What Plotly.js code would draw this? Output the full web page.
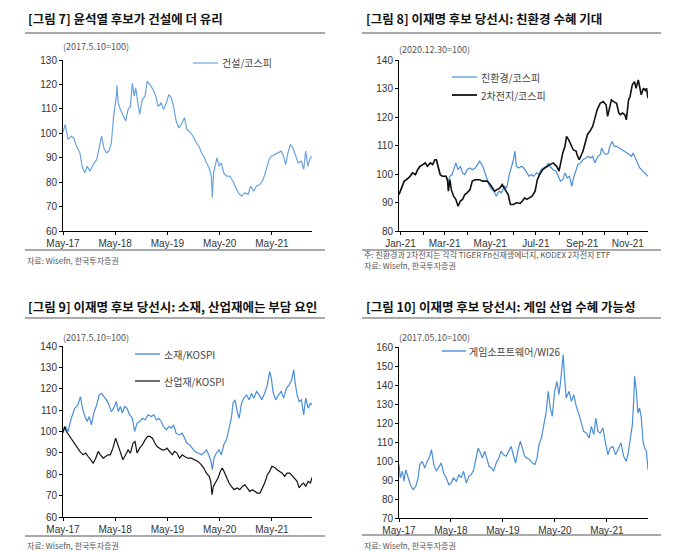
<!DOCTYPE html>
<html>
<head>
<meta charset="utf-8">
<script src="https://cdn.plot.ly/plotly-3.0.1.min.js"></script>
<style>
  html, body { margin: 0; padding: 0; background: #fff; }
  #chart { width: 679px; height: 552px; }
</style>
</head>
<body>
<div id="chart"></div>
<script>
// [그림 7] 건설/코스피 (2017.5.10=100)
const p1Dates = ["2017-05-10","2017-05-26","2017-06-14","2017-07-07","2017-07-24","2017-08-12","2017-09-05","2017-09-23","2017-10-10","2017-10-26","2017-11-14","2017-12-07",
  "2018-01-01","2018-01-23","2018-02-04","2018-02-20","2018-03-10","2018-03-27","2018-04-13","2018-04-29","2018-05-18","2018-05-22","2018-05-31","2018-06-15","2018-07-03","2018-07-22","2018-08-08","2018-08-24","2018-09-07","2018-09-19","2018-09-30","2018-10-10","2018-10-28","2018-11-16","2018-12-05","2018-12-19",
  "2019-01-07","2019-01-30","2019-02-18","2019-03-06","2019-03-28","2019-04-13","2019-05-02","2019-05-20","2019-06-06","2019-06-22","2019-07-10","2019-07-29","2019-08-14","2019-09-07","2019-09-23","2019-10-12","2019-11-05","2019-11-28","2019-12-17",
  "2020-01-03","2020-01-19","2020-02-07","2020-02-26","2020-03-12","2020-03-19","2020-03-28","2020-04-12","2020-04-21","2020-05-05","2020-05-21","2020-06-07","2020-06-26","2020-07-19","2020-08-11","2020-08-30","2020-09-18","2020-10-09","2020-11-01","2020-11-25","2020-12-11",
  "2021-01-03","2021-01-22","2021-02-15","2021-03-09","2021-04-01","2021-04-20","2021-05-06","2021-05-29","2021-06-21","2021-07-14","2021-07-31","2021-08-14","2021-08-30","2021-09-16","2021-10-04","2021-10-23","2021-11-09","2021-12-02","2021-12-18",
  "2022-01-01","2022-01-16","2022-01-30","2022-02-10"];
const construction = [100.5,103.6,97.5,98.8,98,94.7,92,85.9,83.8,86.5,84.5,87.2,
  89.3,94.7,98.8,94,92,92.7,96.1,107,115.2,119.6,112.4,109.7,107,105,109.7,111,120.6,115.2,118.6,113.8,107.7,113.8,115.2,121.3,
  120,117.9,115.2,111,112.4,109.7,112.4,115.8,114.5,111,105,102.2,103.6,106.3,101.5,100.8,98.8,96.1,94.7,
  92,90.6,87.9,85.9,82.5,73.6,83.8,87.2,90,86.5,87.9,83.8,82.5,82.5,80.4,77.7,75.6,74.3,75.6,75,78.4,
  76.3,78.4,79,81.1,85.2,89.3,90.6,91.3,92,92.7,90.6,87.2,92,95.4,94,90.6,87.9,88.6,85.2,
  92.7,86.5,89.3,90.6];

// [그림 8] 친환경/코스피, 2차전지/코스피 (2020.12.30=100)
const p2DatesBattery = ["2020-12-30","2021-01-03","2021-01-06","2021-01-09","2021-01-14","2021-01-17","2021-01-21","2021-01-24","2021-01-27","2021-01-31","2021-02-03","2021-02-06","2021-02-10","2021-02-13","2021-02-16","2021-02-18","2021-02-21","2021-02-23","2021-02-26","2021-03-03","2021-03-05",
  "2021-03-06","2021-03-08","2021-03-10","2021-03-13","2021-03-16","2021-03-19","2021-03-22","2021-03-25","2021-03-28","2021-03-31","2021-04-04","2021-04-07","2021-04-11","2021-04-14","2021-04-17","2021-04-21","2021-04-24","2021-04-27",
  "2021-05-01","2021-05-04","2021-05-07","2021-05-10","2021-05-14","2021-05-17","2021-05-20","2021-05-23","2021-05-25","2021-05-28","2021-06-01","2021-06-05","2021-06-10","2021-06-13","2021-06-16","2021-06-19","2021-06-23","2021-06-26","2021-06-30",
  "2021-07-03","2021-07-06","2021-07-10","2021-07-13","2021-07-16","2021-07-20","2021-07-24","2021-07-29","2021-08-01","2021-08-03","2021-08-06","2021-08-09","2021-08-11","2021-08-14","2021-08-17","2021-08-20","2021-08-24","2021-08-25","2021-08-28","2021-08-30",
  "2021-09-02","2021-09-05","2021-09-08","2021-09-11","2021-09-15","2021-09-18","2021-09-21","2021-09-25","2021-09-29","2021-10-03","2021-10-05","2021-10-07","2021-10-10","2021-10-13","2021-10-17","2021-10-20","2021-10-22","2021-10-25","2021-10-28","2021-10-30",
  "2021-11-02","2021-11-04","2021-11-07","2021-11-10","2021-11-12","2021-11-15","2021-11-17","2021-11-19","2021-11-22","2021-11-25","2021-11-26","2021-11-28"];
const battery = [92.8,95.7,97.5,98,99.2,100.4,99.8,101.5,102.7,103.3,103.9,102.7,103.9,103.3,105,105,102.1,99.8,99.2,99.2,97.5,
  94,98,94.5,92.2,91.1,88.7,90.5,91.1,92.8,93.4,94.5,97.5,98,98,98,97.5,97.5,97.5,
  96.3,95.1,94,94.5,95.1,96.3,95.1,94,92.8,89.3,89.3,89.9,89.7,90.5,91.6,91.1,91.6,92.2,94,
  98,99.8,101.5,102.1,102.7,103.3,103.9,102.7,101,103.9,107.4,109.7,113.2,112,110.3,108.5,108,106.8,105,106.2,
  108,110.9,113.8,114.9,116.7,119.6,122.5,124.8,125.4,124.3,120.2,122.5,126,125.4,124.8,121.4,120.8,121.4,120.8,119,
  126,127.2,131.3,132.4,130.1,133,130.1,127.8,130.1,129.1,130.1,126.6];
const p2DatesGreen = ["2020-12-30","2021-01-03","2021-01-06","2021-01-09","2021-01-14","2021-01-17","2021-01-21","2021-01-24","2021-01-27","2021-01-31","2021-02-03","2021-02-06","2021-02-10","2021-02-13","2021-02-16","2021-02-18","2021-02-21","2021-02-23","2021-02-26","2021-03-03",
  "2021-03-06","2021-03-08","2021-03-11","2021-03-14","2021-03-16","2021-03-19","2021-03-22","2021-03-25","2021-03-28","2021-03-31","2021-04-04","2021-04-07","2021-04-11","2021-04-14","2021-04-17","2021-04-21","2021-04-24","2021-04-27","2021-04-30",
  "2021-05-03","2021-05-06","2021-05-09","2021-05-13","2021-05-16","2021-05-20","2021-05-23","2021-05-25","2021-05-27","2021-05-29","2021-06-01","2021-06-03","2021-06-05","2021-06-08","2021-06-12","2021-06-15","2021-06-18","2021-06-22","2021-06-25","2021-06-28",
  "2021-07-02","2021-07-05","2021-07-08","2021-07-12","2021-07-15","2021-07-18","2021-07-20","2021-07-24","2021-07-28","2021-07-31","2021-08-03","2021-08-06","2021-08-09","2021-08-12","2021-08-15","2021-08-18","2021-08-21","2021-08-24","2021-08-26","2021-08-30",
  "2021-09-02","2021-09-06","2021-09-09","2021-09-12","2021-09-15","2021-09-18","2021-09-22","2021-09-25","2021-09-27","2021-09-30","2021-10-03","2021-10-06","2021-10-08","2021-10-11","2021-10-14","2021-10-17","2021-10-21","2021-10-25","2021-10-28","2021-10-31",
  "2021-11-03","2021-11-06","2021-11-08","2021-11-11","2021-11-14","2021-11-17","2021-11-21","2021-11-25","2021-11-28"];
const greenEnergy = [92.8,95.7,97.5,98,99.2,100.4,99.8,101.5,102.7,103.3,103.9,102.7,103.9,103.3,105,105,102.1,99.8,99.2,99.2,
  97.5,99.2,99.8,102.1,103.9,101.5,102.7,100.4,99.8,101.5,102.1,101.5,102.1,103.3,104.5,102.7,100.4,97.5,95.7,
  94.5,94,92.2,94,93.4,95.7,95.1,98,100.4,102.1,105,108,102.7,102.1,102.7,102.1,101,99.2,99.8,99.2,
  100.4,99.8,101.5,102.1,102.7,103.9,102.7,101.5,101,99.2,97.5,98,100.4,98.6,99.2,95.7,99.2,101.5,103.3,103.9,
  105,105.6,106.2,105.6,106.2,103.9,106.2,106.8,109.1,107.4,106.8,107.4,109.7,111.4,109.7,109.7,109.1,108.5,108,107.4,
  106.8,106.2,107.4,105.6,103.9,102.1,101,99.8,99.2];

// [그림 9] 소재/KOSPI, 산업재/KOSPI (2017.5.10=100)
const p3DatesMat = ["2017-05-10","2017-05-26","2017-06-14","2017-07-07","2017-07-31","2017-08-23","2017-09-09","2017-09-23","2017-10-10","2017-10-26","2017-11-09","2017-11-25","2017-12-11",
  "2018-01-01","2018-01-18","2018-02-04","2018-02-20","2018-03-10","2018-03-27","2018-04-13","2018-04-29","2018-05-18","2018-05-31","2018-06-15","2018-06-29","2018-07-15","2018-07-31","2018-08-19","2018-09-07","2018-09-23","2018-10-10","2018-10-28","2018-11-16","2018-12-05","2018-12-26",
  "2019-01-18","2019-02-04","2019-02-22","2019-03-11","2019-03-28","2019-04-13","2019-05-02","2019-05-20","2019-06-06","2019-06-22","2019-07-10","2019-08-03","2019-08-21","2019-09-07","2019-09-23","2019-10-12","2019-10-30","2019-11-17","2019-12-10",
  "2020-01-03","2020-01-19","2020-02-07","2020-02-23","2020-03-10","2020-03-19","2020-03-31","2020-04-16","2020-05-05","2020-05-21","2020-06-07","2020-06-26","2020-07-14","2020-07-30","2020-08-11","2020-08-25","2020-09-09","2020-09-23","2020-10-09","2020-10-25","2020-11-13","2020-12-02","2020-12-18",
  "2021-01-03","2021-01-22","2021-02-10","2021-02-28","2021-03-20","2021-04-08","2021-04-24","2021-05-06","2021-05-17","2021-06-05","2021-06-24","2021-07-14","2021-07-31","2021-08-19","2021-09-07","2021-09-25","2021-10-09","2021-10-18","2021-11-02","2021-11-16","2021-12-02","2021-12-18",
  "2022-01-01","2022-01-18","2022-02-03","2022-02-14"];
const materials = [99.5,102.3,100,106.2,110.9,112.5,116.3,110.9,107,104.7,107,103.1,108.6,
  112.5,117.1,117.9,116.3,114.8,112.5,109.3,110.9,114,109.3,111.7,108.6,111.7,110.9,107.8,106.2,100,103.9,104.7,106.2,105.4,107.8,
  107,107.8,105.4,106.2,104.7,102.3,100.8,102.3,101.6,103.1,99.2,98.4,99.2,96.9,94.6,93.8,92.2,90.7,89.9,
  89.1,89.9,91.4,89.1,86,82.1,87.5,89.9,91.4,89.1,93.8,96.1,100.8,106.2,113.2,114.8,109.3,106.2,113.2,115.6,117.1,114.8,117.9,
  115.6,118.7,117.1,114.8,117.9,121.8,128,124.9,118.7,114.8,117.1,118.7,115.6,120.2,121.8,124.1,128.8,123.3,117.1,114,114.8,107.8,
  115.6,110.9,113.2,112.5];
const p3DatesInd = ["2017-05-10","2017-05-21","2017-06-03","2017-06-26","2017-07-19","2017-08-12","2017-09-05","2017-09-28","2017-10-16","2017-11-02","2017-11-18","2017-12-07","2017-12-25",
  "2018-01-11","2018-01-27","2018-02-15","2018-03-04","2018-03-20","2018-04-06","2018-04-24","2018-05-13","2018-05-29","2018-06-15","2018-07-03","2018-07-22","2018-08-08","2018-08-24","2018-09-12","2018-09-26","2018-10-10","2018-10-28","2018-11-16","2018-12-05","2018-12-23",
  "2019-01-07","2019-01-25","2019-02-11","2019-02-27","2019-03-16","2019-04-04","2019-04-20","2019-05-07","2019-05-25","2019-06-13","2019-06-29","2019-07-16","2019-08-03","2019-08-22","2019-09-07","2019-10-01","2019-10-24","2019-11-17","2019-12-10",
  "2020-01-03","2020-01-19","2020-02-07","2020-02-26","2020-03-08","2020-03-17","2020-03-26","2020-04-12","2020-04-28","2020-05-14","2020-05-28","2020-06-09","2020-06-26","2020-07-14","2020-07-30","2020-08-18","2020-09-09","2020-09-27","2020-10-16","2020-11-01","2020-11-18","2020-12-06","2020-12-25",
  "2021-01-11","2021-01-27","2021-02-15","2021-03-04","2021-03-20","2021-04-08","2021-04-24","2021-05-10","2021-05-29","2021-06-15","2021-07-03","2021-07-21","2021-08-07","2021-08-23","2021-09-12","2021-09-30","2021-10-16","2021-11-02","2021-11-16","2021-12-02","2021-12-18",
  "2022-01-01","2022-01-18","2022-02-03","2022-02-14"];
const industrials = [99.5,102.3,100,97.7,95.3,93,90.7,89.1,89.9,88.3,86.8,85.2,87.5,
  90.7,89.1,87.5,88.3,89.1,89.1,92.2,96.9,93.8,89.9,86.8,89.1,91.4,89.9,94.6,95.3,89.9,92.2,93.8,96.1,97.7,
  97.7,96.9,94.6,93,92.2,91.4,91.4,92.2,90.7,89.1,90.7,89.9,87.5,89.1,88.3,87.5,87.5,86.8,86,
  84.4,82.9,80.5,79,76.7,70.4,74.3,76.7,78.2,81.3,82.9,81.3,78.2,75.9,74.3,72.8,73.6,72.8,74.3,75.1,73.6,72,72.8,
  72,71.2,71.2,73.6,75.9,79.8,81.3,83.7,83.2,82.1,81.3,80.5,79,80.5,80.5,79,78.2,76.7,73.6,75.1,75.9,
  74.3,76.7,75.9,78.5];

// [그림 10] 게임소프트웨어/WI26 (2017.05.10=100)
const p4Dates = ["2017-05-10","2017-05-19","2017-06-03","2017-06-14","2017-06-26","2017-07-12","2017-07-29","2017-08-17","2017-09-05","2017-09-21","2017-10-03","2017-10-21","2017-11-07","2017-11-24","2017-12-12","2017-12-24",
  "2018-01-10","2018-01-28","2018-02-17","2018-03-03","2018-03-19","2018-04-07","2018-04-26","2018-05-12","2018-05-28","2018-06-17","2018-07-05","2018-07-21","2018-08-07","2018-08-26","2018-09-14","2018-09-30","2018-10-17","2018-10-31","2018-11-17","2018-11-28","2018-12-17",
  "2019-01-03","2019-01-19","2019-02-02","2019-02-19","2019-03-06","2019-03-24","2019-04-12","2019-04-28","2019-05-14","2019-06-02","2019-06-21","2019-07-07","2019-07-19","2019-08-07","2019-08-23","2019-09-10","2019-09-24","2019-10-10","2019-10-26","2019-11-14","2019-12-03","2019-12-21",
  "2020-01-05","2020-01-19","2020-02-05","2020-02-21","2020-03-10","2020-03-24","2020-04-07","2020-04-21","2020-05-08","2020-05-24","2020-06-07","2020-06-19","2020-06-30","2020-07-07","2020-07-17","2020-07-28","2020-08-17","2020-09-03","2020-09-19","2020-10-07","2020-10-26","2020-11-12","2020-11-28","2020-12-17",
  "2021-01-05","2021-01-21","2021-02-07","2021-02-21","2021-03-08","2021-03-24","2021-04-12","2021-04-30","2021-05-17","2021-06-02","2021-06-21","2021-07-10","2021-07-28","2021-08-17","2021-09-05","2021-09-23","2021-10-07","2021-10-21","2021-11-05","2021-11-14","2021-11-21","2021-12-03","2021-12-14","2021-12-26",
  "2022-01-07","2022-01-19","2022-01-30","2022-02-12","2022-02-23"];
const gameSoftware = [98.1,91.1,94.6,89.3,95.4,91.9,87.5,84.9,86.7,91.1,98.1,99.8,96.3,99.8,102.5,106,
  98.1,94.6,97.2,99,93.7,91.1,87.5,88.4,91.1,89.3,92.8,91.1,94.6,88.4,91.9,92.8,95.4,100.7,106.8,105.1,101.6,
  105.1,100.7,97.2,96.3,94.6,98.9,101.6,105.1,103.3,102.5,105.1,107.7,104.2,98.9,105.1,110.4,106.8,102.5,101.6,100.7,98.9,98.1,
  101.6,108.6,112.1,119.1,126.1,136.7,127.8,123.5,136.7,141.9,134.9,141.9,152.5,156,143.7,133.2,136.7,131.4,134.9,128.8,124.4,119.1,115.6,114.7,
  112.1,118.2,113.9,122.6,115.6,114.7,117.4,109.5,103.3,106.8,107.7,103.3,106,109.5,102.5,99.8,104.2,111.2,119.1,131.4,144.6,136.7,125.3,127.9,
  122.6,110.4,106.8,105.1,95.4];

const yearTicks = ["2017-05-10","2018-05-10","2019-05-10","2020-05-10","2021-05-10"];
const yearLabels = ["May-17","May-18","May-19","May-20","May-21"];
const monthTicks = ["2021-01-01","2021-02-01","2021-03-01","2021-04-01","2021-05-01","2021-06-01","2021-07-01","2021-08-01","2021-09-01","2021-10-01","2021-11-01"];
const monthLabels = ["Jan-21","","Mar-21","","May-21","","Jul-21","","Sep-21","","Nov-21"];

const W = 679, H = 552;
const px = x => x / W;
const py = y => 1 - y / H;

const BLUE = "#4a8fd8";
const KR = "'Noto Sans CJK KR', 'Noto Sans', sans-serif";
const LAT = "'Liberation Sans', Arial, sans-serif";

const traces = [
  { x: p1Dates, y: construction, xaxis: "x", yaxis: "y", type: "scatter", mode: "lines", line: { color: "#6aa3e0", width: 1.2 } },
  { x: p2DatesGreen, y: greenEnergy, xaxis: "x2", yaxis: "y2", type: "scatter", mode: "lines", line: { color: BLUE, width: 1.2 } },
  { x: p2DatesBattery, y: battery, xaxis: "x2", yaxis: "y2", type: "scatter", mode: "lines", line: { color: "#111", width: 1.6 } },
  { x: p3DatesMat, y: materials, xaxis: "x3", yaxis: "y3", type: "scatter", mode: "lines", line: { color: BLUE, width: 1.2 } },
  { x: p3DatesInd, y: industrials, xaxis: "x3", yaxis: "y3", type: "scatter", mode: "lines", line: { color: "#111", width: 1.2 } },
  { x: p4Dates, y: gameSoftware, xaxis: "x4", yaxis: "y4", type: "scatter", mode: "lines", line: { color: BLUE, width: 1.2 } }
];

function xAxis(domain, range, tickvals, ticktext, anchor) {
  return {
    domain: domain, range: range, type: "date", anchor: anchor,
    tickvals: tickvals, ticktext: ticktext,
    showline: true, linecolor: "#000", linewidth: 1,
    ticks: "outside", ticklen: 3, tickcolor: "#000",
    showgrid: false, zeroline: false,
    tickfont: { family: LAT, size: 10, color: "#333" }
  };
}
function yAxis(domain, range, anchor) {
  return {
    domain: domain, range: range, dtick: 10, anchor: anchor,
    showline: true, linecolor: "#000", linewidth: 1,
    ticks: "outside", ticklen: 3, tickcolor: "#000",
    showgrid: false, zeroline: false,
    tickfont: { family: LAT, size: 10, color: "#333" }
  };
}

const topY = [py(231), py(60)];
const botY3 = [py(517), py(346)];
const botY4 = [py(518), py(347)];
const leftX = [px(63), px(312)];
const rightX = [px(399), px(648)];

function title(x, y, text) {
  return { xref: "paper", yref: "paper", x: px(x), y: py(y), xanchor: "left", yanchor: "middle", showarrow: false,
    text: text, font: { family: KR, size: 12.5, color: "#111", weight: 700 } };
}
function note(x, y, text, size, color) {
  return { xref: "paper", yref: "paper", x: px(x), y: py(y), xanchor: "left", yanchor: "middle", showarrow: false,
    text: text, font: { family: KR, size: size, color: color } };
}
function hline(x0, x1, y, color, width) {
  return { type: "line", xref: "paper", yref: "paper", x0: px(x0), x1: px(x1), y0: py(y), y1: py(y), line: { color: color, width: width } };
}

const annotations = [
  title(26, 18, "[그림 7] 윤석열 후보가 건설에 더 유리"),
  title(364, 18, "[그림 8] 이재명 후보 당선시: 친환경 수혜 기대"),
  title(26, 306, "[그림 9] 이재명 후보 당선시: 소재, 산업재에는 부담 요인"),
  title(364, 306, "[그림 10] 이재명 후보 당선시: 게임 산업 수혜 가능성"),

  note(61, 46, "(2017.5.10=100)", 9, "#555"),
  note(397, 49, "(2020.12.30=100)", 9, "#555"),
  note(61, 337, "(2017.5.10=100)", 9, "#555"),
  note(397, 337, "(2017.05.10=100)", 9, "#555"),

  note(25, 260, "자료: Wisefn, 한국투자증권", 8, "#555"),
  note(362, 255, "주: 친환경과 2차전지는 각각 TIGER Fn신재생에너지, KODEX 2차전지 ETF", 8, "#555"),
  note(362, 266, "자료: Wisefn, 한국투자증권", 8, "#555"),
  note(25, 545, "자료: Wisefn, 한국투자증권", 8, "#555"),
  note(362, 545, "자료: Wisefn, 한국투자증권", 8, "#555"),

  note(220, 63, "건설/코스피", 10, "#444"),
  note(479, 77, "친환경/코스피", 10, "#444"),
  note(479, 95, "2차전지/코스피", 10, "#444"),
  note(162, 354, "소재/KOSPI", 10, "#444"),
  note(162, 381, "산업재/KOSPI", 10, "#444"),
  note(467, 351, "게임소프트웨어/WI26", 10, "#444")
];

const shapes = [
  hline(25, 325, 33, "#555", 1),
  hline(362, 661, 33, "#555", 1),
  hline(25, 325, 250, "#555", 1),
  hline(362, 661, 250, "#555", 1),
  hline(25, 325, 318, "#555", 1),
  hline(362, 661, 318, "#555", 1),
  hline(25, 325, 536, "#555", 1),
  hline(362, 661, 535, "#555", 1),
  // legend samples
  hline(193, 218, 63, "#6aa3e0", 1.2),
  hline(452, 477, 77, BLUE, 1.2),
  hline(452, 477, 95, "#111", 1.8),
  hline(135, 160, 354, BLUE, 1.4),
  hline(135, 160, 381, "#111", 1.2),
  hline(442, 466, 351, BLUE, 1.4)
];

const layout = {
  width: W, height: H,
  margin: { l: 0, r: 0, t: 0, b: 0 },
  paper_bgcolor: "#fff", plot_bgcolor: "rgba(0,0,0,0)",
  showlegend: false,
  xaxis: xAxis(leftX, ["2017-05-10", "2022-02-14"], yearTicks, yearLabels, "y"),
  yaxis: yAxis(topY, [60, 130], "x"),
  xaxis2: xAxis(rightX, ["2020-12-30", "2021-11-28"], monthTicks, monthLabels, "y2"),
  yaxis2: yAxis(topY, [80, 140], "x2"),
  xaxis3: xAxis(leftX, ["2017-05-10", "2022-02-14"], yearTicks, yearLabels, "y3"),
  yaxis3: yAxis(botY3, [60, 140], "x3"),
  xaxis4: xAxis(rightX, ["2017-05-10", "2022-02-23"], yearTicks, yearLabels, "y4"),
  yaxis4: yAxis(botY4, [70, 160], "x4"),
  annotations: annotations,
  shapes: shapes
};

Plotly.newPlot("chart", traces, layout, { displayModeBar: false, staticPlot: true });
</script>
</body>
</html>
